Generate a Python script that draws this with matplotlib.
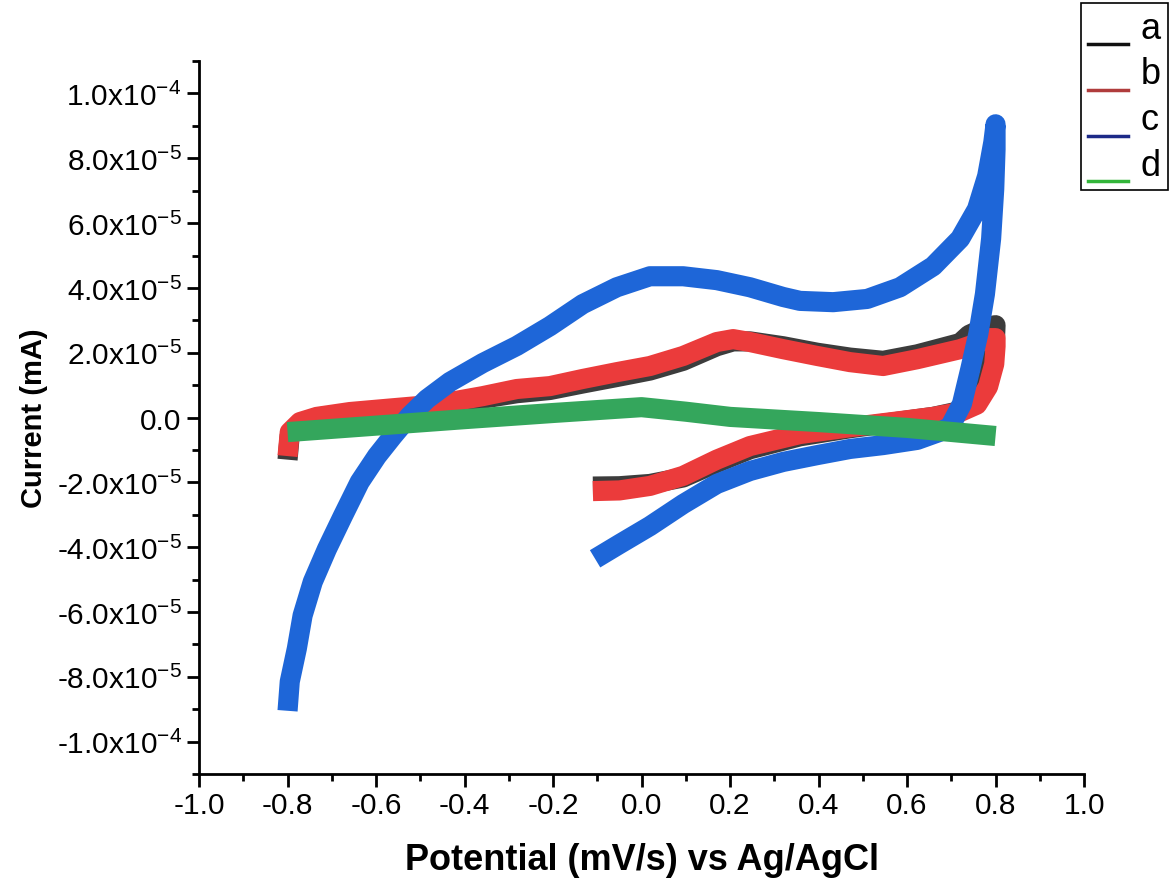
import numpy as np
import matplotlib
matplotlib.use('Agg')
import matplotlib.pyplot as plt
from matplotlib.ticker import MultipleLocator, FuncFormatter
from matplotlib.legend_handler import HandlerLine2D
from matplotlib.lines import Line2D

plt.rcParams['font.family'] = ['Liberation Sans', 'DejaVu Sans']
plt.rcParams['mathtext.fontset'] = 'custom'
plt.rcParams['mathtext.rm'] = 'Liberation Sans'
plt.rcParams['mathtext.it'] = 'Liberation Sans:italic'
plt.rcParams['axes.unicode_minus'] = False

# potential (V) and current (1e-5 mA), traced along each loop
a_x = [-0.11, -0.05, 0.019, 0.094, 0.170, 0.245, 0.358, 0.471, 0.584, 0.659, 0.720, 0.758, 0.785, 0.798, 0.80,
       0.78, 0.74, 0.72, 0.623, 0.546, 0.471, 0.397, 0.320, 0.245, 0.207, 0.170, 0.094, 0.019, -0.056, -0.133,
       -0.207, -0.282, -0.359, -0.433, -0.508, -0.584, -0.659, -0.734, -0.772, -0.795, -0.80]
a_y = [-2.13, -2.12, -2.05, -1.85, -1.40, -0.98, -0.58, -0.33, -0.12, 0.02, 0.20, 0.55, 1.30, 2.20, 2.85,
       2.80, 2.55, 2.30, 1.95, 1.75, 1.85, 2.00, 2.20, 2.35, 2.35, 2.20, 1.75, 1.45, 1.25, 1.05,
       0.85, 0.75, 0.58, 0.42, 0.30, 0.22, 0.13, 0.0, -0.18, -0.55, -1.30]

b_x = [-0.11, -0.05, 0.019, 0.094, 0.170, 0.245, 0.358, 0.471, 0.584, 0.659, 0.720, 0.758, 0.783, 0.797, 0.80, 0.80,
       0.785, 0.76, 0.72, 0.623, 0.546, 0.471, 0.397, 0.320, 0.245, 0.207, 0.170, 0.094, 0.019, -0.056, -0.133,
       -0.207, -0.282, -0.359, -0.433, -0.508, -0.584, -0.659, -0.734, -0.772, -0.795, -0.80]
b_y = [-2.27, -2.25, -2.11, -1.80, -1.30, -0.88, -0.51, -0.30, -0.11, 0.02, 0.17, 0.40, 0.95, 1.65, 2.20, 2.45,
       2.45, 2.30, 2.11, 1.80, 1.59, 1.71, 1.90, 2.11, 2.33, 2.42, 2.33, 1.90, 1.59, 1.40, 1.19,
       0.97, 0.88, 0.66, 0.48, 0.35, 0.26, 0.17, 0.02, -0.14, -0.45, -1.19]

c_x = [-0.105, -0.049, 0.019, 0.094, 0.170, 0.245, 0.320, 0.397, 0.471, 0.546, 0.623, 0.672, 0.697, 0.724,
       0.743, 0.761, 0.776, 0.790, 0.797, 0.800, 0.800,
       0.795, 0.781, 0.758, 0.720, 0.659, 0.584, 0.510, 0.433, 0.358, 0.320, 0.245, 0.170, 0.094, 0.019,
       -0.056, -0.133, -0.207, -0.282, -0.359, -0.433, -0.485, -0.524, -0.562, -0.598, -0.637, -0.675,
       -0.711, -0.743, -0.766, -0.779, -0.795, -0.800]
c_y = [-4.36, -3.90, -3.35, -2.67, -2.05, -1.65, -1.37, -1.16, -0.97, -0.85, -0.69, -0.45, -0.29, 0.42,
       1.50, 2.58, 3.81, 5.52, 7.05, 8.28, 9.05,
       8.50, 7.45, 6.43, 5.52, 4.67, 4.02, 3.66, 3.56, 3.60, 3.72, 4.02, 4.24, 4.36, 4.36,
       4.02, 3.50, 2.82, 2.21, 1.68, 1.10, 0.57, 0.05, -0.57, -1.19, -1.99, -3.04,
       -4.06, -5.07, -6.11, -7.13, -8.15, -9.05]

d_x = [-0.80, -0.6, -0.4, -0.2, 0.0, 0.1, 0.2, 0.4, 0.6, 0.8]
d_y = [-0.45, -0.25, -0.05, 0.14, 0.32, 0.18, 0.02, -0.14, -0.32, -0.57]

labels = ['a', 'b', 'c', 'd']
colors = ['#3c3c3c', '#eb3b3b', '#1e66d8', '#34a65c']
legend_colors = ['#111111', '#b03c3c', '#1c2a88', '#33b53a']

scale = 1e-5
fig = plt.figure(figsize=(11.75, 8.87), dpi=100)
ax = fig.add_axes([0.1694, 0.1263, 0.9226 - 0.1694, 0.930 - 0.1263])

for xs, ys, c in zip([a_x, b_x, c_x, d_x], [a_y, b_y, c_y, d_y], colors):
    ax.plot(xs, np.array(ys) * scale, color=c, lw=14.5, solid_capstyle='butt', solid_joinstyle='round')

ax.set_xlim(-1.0, 1.0)
ax.set_ylim(-1.1e-4, 1.1e-4)
ax.spines['top'].set_visible(False)
ax.spines['right'].set_visible(False)
for s in ['left', 'bottom']:
    ax.spines[s].set_linewidth(2.0)

ax.xaxis.set_major_locator(MultipleLocator(0.2))
ax.xaxis.set_minor_locator(MultipleLocator(0.1))
ax.set_yticks(np.arange(-10, 11, 2) * 1e-5)
ax.yaxis.set_minor_locator(MultipleLocator(1e-5))


def sci(v, pos):
    if abs(v) < 1e-12:
        return '0.0'
    e = int(np.floor(np.log10(abs(v)) + 1e-9))
    m = v / 10 ** e
    return f'{m:.1f}x10$^{{{e}}}$'


ax.yaxis.set_major_formatter(FuncFormatter(sci))
ax.xaxis.set_major_formatter(FuncFormatter(lambda v, p: f'{v:.1f}'))
ax.tick_params(which='major', direction='out', length=9, width=2.0, labelsize=21.5)
ax.tick_params(which='minor', direction='out', length=5, width=2.0)

ax.set_xlabel('Potential (mV/s) vs Ag/AgCl', fontsize=26, fontweight='bold', labelpad=16)
ax.set_ylabel('Current (mA)', fontsize=21, fontweight='bold', labelpad=6)


class LowLine(HandlerLine2D):
    def create_artists(self, legend, orig_handle, xdescent, ydescent, width, height, fontsize, trans):
        arts = super().create_artists(legend, orig_handle, xdescent, ydescent, width, height, fontsize, trans)
        for a in arts:
            a.set_ydata([-ydescent - 0.25 * height] * len(a.get_xdata()))
        return arts


handles = [Line2D([0, 1], [0, 0], color=c, lw=2.5) for c in legend_colors]
leg = fig.legend(handles, labels, loc='upper right', bbox_to_anchor=(0.994, 0.995), fontsize=26,
                 frameon=True, fancybox=False, edgecolor='black', framealpha=1, borderaxespad=0,
                 handlelength=1.1, handletextpad=0.35, labelspacing=0.3, borderpad=0.2,
                 handler_map={Line2D: LowLine()})
leg.get_frame().set_linewidth(1.2)

fig.savefig('out.png', dpi=100)
